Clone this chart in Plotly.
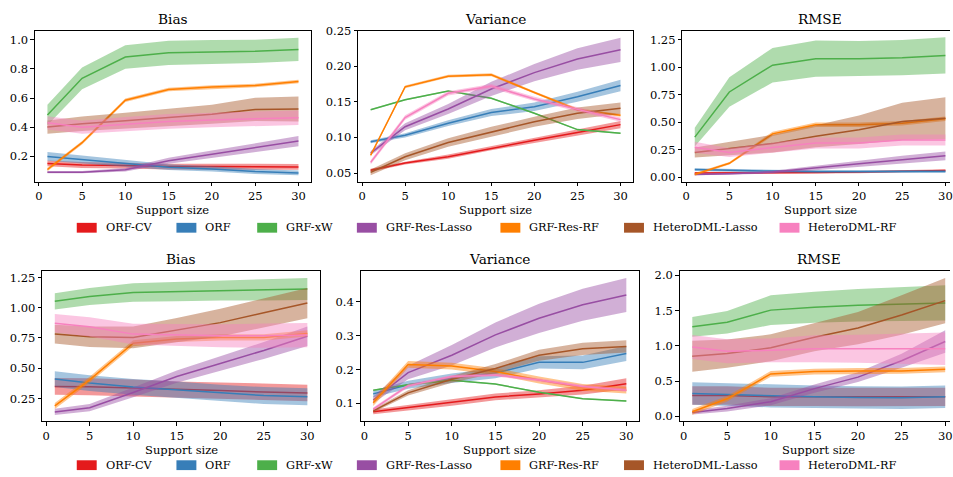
import plotly.graph_objects as go

W, H = 953, 477
FONT = "'DejaVu Serif', 'Liberation Serif', serif"

# ---------------------------------------------------------------- data
support_size = [1, 5, 10, 15, 20, 25, 30]
methods = ["ORF-CV", "ORF", "GRF-xW", "GRF-Res-Lasso", "GRF-Res-RF",
           "HeteroDML-Lasso", "HeteroDML-RF"]
colors = ["#e41a1c", "#377eb8", "#4daf4a", "#984ea3", "#ff7f00",
          "#a65628", "#f781bf"]

# first setting: mean curves and half-widths of the shaded bands
bias_1 = {
    "ORF-CV":          [0.152, 0.141, 0.137, 0.130, 0.130, 0.128, 0.128],
    "ORF":             [0.200, 0.180, 0.153, 0.126, 0.114, 0.096, 0.087],
    "GRF-xW":          [0.484, 0.735, 0.881, 0.910, 0.915, 0.920, 0.933],
    "GRF-Res-Lasso":   [0.092, 0.092, 0.108, 0.170, 0.215, 0.260, 0.305],
    "GRF-Res-RF":      [0.110, 0.294, 0.585, 0.659, 0.675, 0.686, 0.713],
    "HeteroDML-Lasso": [0.401, 0.424, 0.444, 0.469, 0.489, 0.522, 0.525],
    "HeteroDML-RF":    [0.430, 0.400, 0.420, 0.440, 0.450, 0.460, 0.465],
}
bias_1_err = {
    "ORF-CV":          [0.020, 0.020, 0.020, 0.020, 0.020, 0.020, 0.020],
    "ORF":             [0.030, 0.027, 0.024, 0.020, 0.018, 0.017, 0.016],
    "GRF-xW":          [0.070, 0.075, 0.080, 0.083, 0.083, 0.080, 0.080],
    "GRF-Res-Lasso":   [0.008, 0.008, 0.012, 0.020, 0.025, 0.030, 0.035],
    "GRF-Res-RF":      [0.012, 0.012, 0.012, 0.012, 0.012, 0.012, 0.012],
    "HeteroDML-Lasso": [0.045, 0.050, 0.055, 0.060, 0.065, 0.080, 0.085],
    "HeteroDML-RF":    [0.045, 0.045, 0.050, 0.050, 0.050, 0.050, 0.050],
}
variance_1 = {
    "ORF-CV":          [0.054, 0.064, 0.073, 0.085, 0.096, 0.107, 0.118],
    "ORF":             [0.094, 0.103, 0.120, 0.135, 0.143, 0.157, 0.173],
    "GRF-xW":          [0.139, 0.153, 0.165, 0.155, 0.134, 0.111, 0.106],
    "GRF-Res-Lasso":   [0.078, 0.115, 0.140, 0.168, 0.191, 0.210, 0.223],
    "GRF-Res-RF":      [0.075, 0.171, 0.186, 0.188, 0.163, 0.139, 0.131],
    "HeteroDML-Lasso": [0.051, 0.073, 0.093, 0.108, 0.122, 0.134, 0.141],
    "HeteroDML-RF":    [0.065, 0.128, 0.162, 0.172, 0.154, 0.139, 0.125],
}
variance_1_err = {
    "ORF-CV":          [0.002, 0.002, 0.003, 0.003, 0.004, 0.004, 0.005],
    "ORF":             [0.002, 0.003, 0.004, 0.005, 0.006, 0.007, 0.008],
    "GRF-xW":          [0.001, 0.001, 0.001, 0.001, 0.001, 0.001, 0.001],
    "GRF-Res-Lasso":   [0.003, 0.005, 0.007, 0.010, 0.012, 0.015, 0.017],
    "GRF-Res-RF":      [0.002, 0.002, 0.002, 0.002, 0.002, 0.002, 0.002],
    "HeteroDML-Lasso": [0.004, 0.005, 0.006, 0.007, 0.007, 0.008, 0.008],
    "HeteroDML-RF":    [0.003, 0.003, 0.003, 0.003, 0.003, 0.003, 0.003],
}
rmse_1 = {
    "ORF-CV":          [0.036, 0.036, 0.039, 0.042, 0.045, 0.050, 0.060],
    "ORF":             [0.068, 0.060, 0.054, 0.050, 0.048, 0.048, 0.050],
    "GRF-xW":          [0.363, 0.774, 1.018, 1.077, 1.077, 1.086, 1.107],
    "GRF-Res-Lasso":   [0.024, 0.030, 0.045, 0.080, 0.120, 0.158, 0.193],
    "GRF-Res-RF":      [0.024, 0.125, 0.393, 0.476, 0.476, 0.490, 0.530],
    "HeteroDML-Lasso": [0.223, 0.262, 0.304, 0.372, 0.430, 0.506, 0.536],
    "HeteroDML-RF":    [0.270, 0.223, 0.268, 0.310, 0.310, 0.336, 0.336],
}
rmse_1_err = {
    "ORF-CV":          [0.010, 0.010, 0.010, 0.010, 0.010, 0.010, 0.010],
    "ORF":             [0.012, 0.012, 0.012, 0.012, 0.012, 0.012, 0.012],
    "GRF-xW":          [0.085, 0.135, 0.157, 0.165, 0.160, 0.160, 0.165],
    "GRF-Res-Lasso":   [0.008, 0.010, 0.012, 0.020, 0.028, 0.035, 0.040],
    "GRF-Res-RF":      [0.012, 0.012, 0.020, 0.020, 0.020, 0.020, 0.020],
    "HeteroDML-Lasso": [0.045, 0.060, 0.080, 0.100, 0.130, 0.170, 0.190],
    "HeteroDML-RF":    [0.050, 0.040, 0.045, 0.050, 0.050, 0.050, 0.050],
}

# second setting
bias_2 = {
    "ORF-CV":          [0.350, 0.347, 0.336, 0.323, 0.315, 0.304, 0.296],
    "ORF":             [0.410, 0.377, 0.345, 0.323, 0.296, 0.274, 0.264],
    "GRF-xW":          [1.053, 1.093, 1.126, 1.134, 1.145, 1.147, 1.155],
    "GRF-Res-Lasso":   [0.139, 0.174, 0.300, 0.431, 0.539, 0.647, 0.764],
    "GRF-Res-RF":      [0.188, 0.404, 0.707, 0.742, 0.755, 0.755, 0.788],
    "HeteroDML-Lasso": [0.782, 0.761, 0.755, 0.815, 0.877, 0.958, 1.039],
    "HeteroDML-RF":    [0.872, 0.842, 0.782, 0.774, 0.769, 0.769, 0.774],
}
bias_2_err = {
    "ORF-CV":          [0.070, 0.070, 0.070, 0.068, 0.068, 0.068, 0.068],
    "ORF":             [0.065, 0.065, 0.065, 0.068, 0.068, 0.070, 0.070],
    "GRF-xW":          [0.067, 0.070, 0.077, 0.080, 0.085, 0.088, 0.090],
    "GRF-Res-Lasso":   [0.025, 0.030, 0.040, 0.050, 0.060, 0.070, 0.080],
    "GRF-Res-RF":      [0.025, 0.025, 0.025, 0.025, 0.025, 0.025, 0.025],
    "HeteroDML-Lasso": [0.077, 0.085, 0.090, 0.100, 0.115, 0.120, 0.125],
    "HeteroDML-RF":    [0.077, 0.080, 0.085, 0.090, 0.095, 0.100, 0.100],
}
variance_2 = {
    "ORF-CV":          [0.075, 0.087, 0.102, 0.119, 0.128, 0.139, 0.158],
    "ORF":             [0.128, 0.155, 0.174, 0.189, 0.221, 0.221, 0.247],
    "GRF-xW":          [0.139, 0.155, 0.168, 0.157, 0.133, 0.114, 0.107],
    "GRF-Res-Lasso":   [0.110, 0.191, 0.242, 0.302, 0.351, 0.391, 0.420],
    "GRF-Res-RF":      [0.102, 0.215, 0.210, 0.194, 0.169, 0.147, 0.139],
    "HeteroDML-Lasso": [0.078, 0.131, 0.171, 0.203, 0.242, 0.261, 0.268],
    "HeteroDML-RF":    [0.083, 0.152, 0.179, 0.184, 0.169, 0.150, 0.139],
}
variance_2_err = {
    "ORF-CV":          [0.007, 0.008, 0.009, 0.010, 0.011, 0.013, 0.016],
    "ORF":             [0.010, 0.012, 0.014, 0.015, 0.018, 0.020, 0.022],
    "GRF-xW":          [0.002, 0.002, 0.002, 0.002, 0.002, 0.002, 0.002],
    "GRF-Res-Lasso":   [0.010, 0.020, 0.030, 0.037, 0.043, 0.047, 0.050],
    "GRF-Res-RF":      [0.010, 0.010, 0.010, 0.010, 0.010, 0.010, 0.010],
    "HeteroDML-Lasso": [0.005, 0.008, 0.010, 0.013, 0.016, 0.018, 0.018],
    "HeteroDML-RF":    [0.005, 0.005, 0.005, 0.005, 0.005, 0.005, 0.005],
}
rmse_2 = {
    "ORF-CV":          [0.297, 0.297, 0.278, 0.278, 0.274, 0.274, 0.278],
    "ORF":             [0.325, 0.311, 0.288, 0.278, 0.269, 0.265, 0.278],
    "GRF-xW":          [1.271, 1.336, 1.508, 1.550, 1.578, 1.596, 1.610],
    "GRF-Res-Lasso":   [0.056, 0.111, 0.209, 0.394, 0.557, 0.789, 1.063],
    "GRF-Res-RF":      [0.065, 0.250, 0.603, 0.636, 0.645, 0.645, 0.668],
    "HeteroDML-Lasso": [0.854, 0.891, 0.974, 1.123, 1.253, 1.439, 1.643],
    "HeteroDML-RF":    [0.984, 0.923, 0.937, 0.960, 0.960, 0.960, 0.960],
}
rmse_2_err = {
    "ORF-CV":          [0.130, 0.130, 0.130, 0.130, 0.130, 0.130, 0.130],
    "ORF":             [0.160, 0.160, 0.160, 0.160, 0.160, 0.160, 0.160],
    "GRF-xW":          [0.140, 0.160, 0.210, 0.220, 0.230, 0.240, 0.250],
    "GRF-Res-Lasso":   [0.030, 0.040, 0.050, 0.060, 0.070, 0.100, 0.160],
    "GRF-Res-RF":      [0.040, 0.040, 0.040, 0.040, 0.040, 0.040, 0.040],
    "HeteroDML-Lasso": [0.220, 0.200, 0.190, 0.200, 0.230, 0.280, 0.320],
    "HeteroDML-RF":    [0.170, 0.170, 0.170, 0.190, 0.200, 0.210, 0.230],
}

# tick labels
x_ticks = [0, 5, 10, 15, 20, 25, 30]
bias_1_ticks = [0.2, 0.4, 0.6, 0.8, 1.0]
bias_1_labels = ["0.2", "0.4", "0.6", "0.8", "1.0"]
variance_1_ticks = [0.05, 0.10, 0.15, 0.20, 0.25]
variance_1_labels = ["0.05", "0.10", "0.15", "0.20", "0.25"]
rmse_1_ticks = [0.0, 0.25, 0.5, 0.75, 1.0, 1.25]
rmse_1_labels = ["0.00", "0.25", "0.50", "0.75", "1.00", "1.25"]
bias_2_ticks = [0.25, 0.5, 0.75, 1.0, 1.25]
bias_2_labels = ["0.25", "0.50", "0.75", "1.00", "1.25"]
variance_2_ticks = [0.1, 0.2, 0.3, 0.4]
variance_2_labels = ["0.1", "0.2", "0.3", "0.4"]
rmse_2_ticks = [0.0, 0.5, 1.0, 1.5, 2.0]
rmse_2_labels = ["0.0", "0.5", "1.0", "1.5", "2.0"]


# ---------------------------------------------------------------- layout helpers
def fx(p):
    return p / W


def fy(p):
    return 1 - p / H


def rgba(hex_color, alpha):
    h = hex_color.lstrip("#")
    r, g, b = int(h[0:2], 16), int(h[2:4], 16), int(h[4:6], 16)
    return f"rgba({r},{g},{b},{alpha})"


# pixel boxes of each panel: (left, right, top, bottom)
panels = [
    dict(title="Bias", mean=bias_1, err=bias_1_err, box=(35, 312, 24, 178),
         xr=[-0.45, 31.45], yr=[0.027, 1.0625],
         yt=bias_1_ticks, yl=bias_1_labels, right_spine=True),
    dict(title="Variance", mean=variance_1, err=variance_1_err, box=(359.3, 635, 24, 178),
         xr=[-0.45, 31.45], yr=[0.038, 0.25],
         yt=variance_1_ticks, yl=variance_1_labels, right_spine=True),
    dict(title="RMSE", mean=rmse_1, err=rmse_1_err, box=(684.4, 961, 24, 178),
         xr=[-0.45, 30.53], yr=[-0.042, 1.333],
         yt=rmse_1_ticks, yl=rmse_1_labels, right_spine=False),
    dict(title="Bias", mean=bias_2, err=bias_2_err, box=(42.3, 321, 269.3, 422.3),
         xr=[-0.45, 31.45], yr=[0.061, 1.302],
         yt=bias_2_ticks, yl=bias_2_labels, right_spine=True),
    dict(title="Variance", mean=variance_2, err=variance_2_err, box=(361.7, 641, 269.3, 422.3),
         xr=[-0.45, 31.45], yr=[0.047, 0.49],
         yt=variance_2_ticks, yl=variance_2_labels, right_spine=True),
    dict(title="RMSE", mean=rmse_2, err=rmse_2_err, box=(681.8, 961, 269.3, 422.3),
         xr=[-0.45, 30.55], yr=[-0.07, 2.06],
         yt=rmse_2_ticks, yl=rmse_2_labels, right_spine=False),
]

fig = go.Figure()
annotations = []
shapes = []
axis_font = dict(family=FONT, size=11.5, color="#000")

for i, p in enumerate(panels, start=1):
    xa = "x" if i == 1 else f"x{i}"
    ya = "y" if i == 1 else f"y{i}"
    for m, c in zip(methods, colors):
        mu = p["mean"][m]
        e = p["err"][m]
        upper = [a + b for a, b in zip(mu, e)]
        lower = [a - b for a, b in zip(mu, e)]
        fig.add_trace(go.Scatter(
            x=support_size + support_size[::-1], y=upper + lower[::-1],
            fill="toself", fillcolor=rgba(c, 0.45), line=dict(width=0),
            mode="lines", hoverinfo="skip", showlegend=False,
            xaxis=xa, yaxis=ya))
        fig.add_trace(go.Scatter(
            x=support_size, y=mu, mode="lines", name=m,
            line=dict(color=c, width=1.5), showlegend=False,
            xaxis=xa, yaxis=ya))

    left, right, top, bottom = p["box"]
    xkey = "xaxis" if i == 1 else f"xaxis{i}"
    ykey = "yaxis" if i == 1 else f"yaxis{i}"
    # the right-most panels run past the page edge, so clip the domain at 1
    fig.layout[xkey] = dict(
        domain=[fx(left), min(1.0, fx(right))], range=p["xr"], anchor=ya,
        tickvals=x_ticks, ticktext=[str(t) for t in x_ticks],
        ticks="outside", ticklen=3.5, tickwidth=0.8, tickcolor="#000",
        showline=True, linecolor="#000", linewidth=0.9, mirror=True,
        showgrid=False, zeroline=False, tickfont=axis_font,
        ticklabeloverflow="allow", fixedrange=True)
    fig.layout[ykey] = dict(
        domain=[fy(bottom), fy(top)], range=p["yr"], anchor=xa,
        tickvals=p["yt"], ticktext=p["yl"],
        ticks="outside", ticklen=3.5, tickwidth=0.8, tickcolor="#000",
        showline=True, linecolor="#000", linewidth=0.9,
        mirror=p["right_spine"], showgrid=False, zeroline=False,
        tickfont=axis_font, fixedrange=True)

    cx = fx((left + right) / 2)
    annotations.append(dict(
        text=p["title"], x=cx, y=fy(top - 12), xref="paper", yref="paper",
        xanchor="center", yanchor="middle", showarrow=False,
        font=dict(family=FONT, size=13.7, color="#000")))
    annotations.append(dict(
        text="Support size", x=cx, y=fy(bottom + 29), xref="paper", yref="paper",
        xanchor="center", yanchor="middle", showarrow=False,
        font=dict(family=FONT, size=11.5, color="#000")))

# legends under each row: colour patch followed by the method name
patch_left = [77, 177, 258, 358, 502, 626, 782]
for row_y in (225, 467):
    for m, c, x0 in zip(methods, colors, patch_left):
        shapes.append(dict(
            type="rect", xref="paper", yref="paper",
            x0=fx(x0), x1=fx(x0 + 20), y0=fy(row_y + 5), y1=fy(row_y - 5),
            fillcolor=c, line=dict(width=0)))
        annotations.append(dict(
            text=m, x=fx(x0 + 27), y=fy(row_y), xref="paper", yref="paper",
            xanchor="left", yanchor="middle", showarrow=False,
            font=dict(family=FONT, size=11.3, color="#000")))

fig.update_layout(
    width=W, height=H, margin=dict(l=0, r=0, t=0, b=0),
    paper_bgcolor="white", plot_bgcolor="white",
    showlegend=False, annotations=annotations, shapes=shapes)

fig.write_html("out.html")
